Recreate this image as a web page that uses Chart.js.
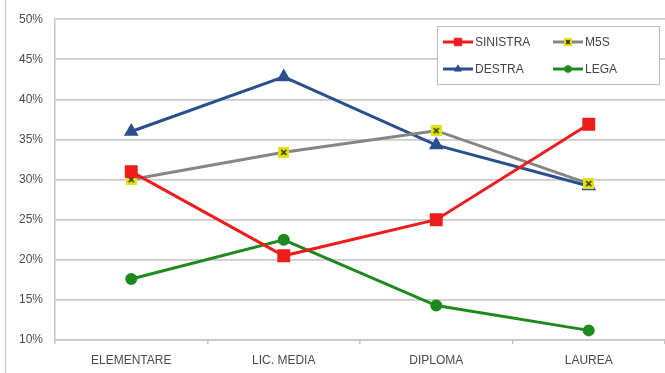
<!DOCTYPE html>
<html>
<head>
<meta charset="utf-8">
<script src="https://cdn.jsdelivr.net/npm/chart.js@4.4.1/dist/chart.umd.min.js"></script>
<style>
html, body { margin: 0; padding: 0; background: #fff; }
</style>
</head>
<body>
<canvas id="myLineChart" width="665" height="373"></canvas>
<script>
var categories = ['ELEMENTARE', 'LIC. MEDIA', 'DIPLOMA', 'LAUREA'];
var sinistra = [31.0, 20.5, 25.0, 36.9];
var m5s = [30.0, 33.4, 36.1, 29.5];
var destra = [36.0, 42.8, 34.3, 29.2];
var lega = [17.6, 22.5, 14.3, 11.2];
var yTicks = [10, 15, 20, 25, 30, 35, 40, 45, 50];

// yellow square with a dark x, used for the M5S points
function m5sMarker(size) {
    var c = document.createElement('canvas');
    c.width = size;
    c.height = size;
    var g = c.getContext('2d');
    var a = size * 0.27, b = size * 0.73;
    g.fillStyle = '#e2e214';
    g.fillRect(0, 0, size, size);
    g.strokeStyle = '#333300';
    g.lineWidth = 1.6;
    g.beginPath();
    g.moveTo(a, a); g.lineTo(b, b);
    g.moveTo(b, a); g.lineTo(a, b);
    g.stroke();
    return c;
}

var frame = {
    id: 'frame',
    beforeDraw: function (chart) {
        var ctx = chart.ctx;
        ctx.save();
        ctx.strokeStyle = '#cfcfcf';
        ctx.lineWidth = 1.5;
        ctx.beginPath();
        ctx.moveTo(5.5, 0);
        ctx.lineTo(5.5, chart.height);
        ctx.stroke();
        ctx.restore();
    }
};

var legendMarker = m5sMarker(8);

var insideLegend = {
    id: 'insideLegend',
    afterDraw: function (chart) {
        var ctx = chart.ctx;
        var bx = 437, by = 26, bw = 222, bh = 58;
        ctx.save();
        ctx.fillStyle = '#fff';
        ctx.fillRect(bx, by, bw, bh);
        ctx.strokeStyle = '#bdbdbd';
        ctx.lineWidth = 1;
        ctx.strokeRect(bx + 0.5, by + 0.5, bw, bh);
        ctx.font = '12px "Liberation Sans", Arial, sans-serif';
        ctx.textBaseline = 'middle';
        chart.data.datasets.forEach(function (ds, i) {
            var x0 = bx + 6 + (i % 2) * 110;
            var y = by + 16 + Math.floor(i / 2) * 27;
            ctx.strokeStyle = ds.borderColor;
            ctx.lineWidth = 3;
            ctx.beginPath();
            ctx.moveTo(x0, y);
            ctx.lineTo(x0 + 30, y);
            ctx.stroke();
            ctx.fillStyle = ds.pointBackgroundColor;
            ctx.strokeStyle = ds.pointBorderColor;
            ctx.lineWidth = 1;
            Chart.helpers.drawPoint(ctx, {
                pointStyle: typeof ds.pointStyle === 'string' ? ds.pointStyle : legendMarker,
                radius: ds.pointRadius * 0.75,
                rotation: 0,
                borderWidth: 1
            }, x0 + 15, y);
            ctx.fillStyle = '#444';
            ctx.fillText(ds.label, x0 + 32, y + 1);
        });
        ctx.restore();
    }
};

var ctx = document.getElementById('myLineChart').getContext('2d');
var myLineChart = new Chart(ctx, {
    type: 'line',
    data: {
        labels: categories,
        datasets: [{
            label: 'SINISTRA',
            data: sinistra,
            borderColor: '#ee1c1c',
            borderWidth: 3,
            pointStyle: 'rect',
            pointRadius: 7,
            pointBackgroundColor: '#ee1c1c',
            pointBorderColor: '#ee1c1c'
        }, {
            label: 'M5S',
            data: m5s,
            borderColor: '#858585',
            borderWidth: 3,
            pointStyle: m5sMarker(11),
            pointRadius: 6,
            pointBackgroundColor: '#e2e214',
            pointBorderColor: '#858585'
        }, {
            label: 'DESTRA',
            data: destra,
            borderColor: '#2b4f8c',
            borderWidth: 3,
            pointStyle: 'triangle',
            pointRadius: 5.5,
            pointBackgroundColor: '#2b4f8c',
            pointBorderColor: '#2b4f8c'
        }, {
            label: 'LEGA',
            data: lega,
            borderColor: '#1e8a1e',
            borderWidth: 3,
            pointStyle: 'circle',
            pointRadius: 4.5,
            pointBackgroundColor: '#1e8a1e',
            pointBorderColor: '#1e8a1e'
        }]
    },
    options: {
        responsive: false,
        animation: false,
        devicePixelRatio: 1,
        layout: {
            autoPadding: false,
            padding: { left: 0, right: 0, top: 17, bottom: 0 }
        },
        plugins: {
            legend: { display: false },
            tooltip: { enabled: false }
        },
        scales: {
            x: {
                offset: true,
                grid: {
                    offset: true,
                    drawOnChartArea: false,
                    drawTicks: true,
                    tickLength: 4,
                    color: '#c4c4c4',
                    lineWidth: 1.5
                },
                border: { color: '#c4c4c4', width: 1.5 },
                ticks: {
                    color: '#4a4a4a',
                    padding: 9,
                    font: { family: '"Liberation Sans", Arial, sans-serif', size: 12 }
                },
                afterFit: function (s) { s.height = 33; }
            },
            y: {
                min: 10,
                max: 50,
                afterBuildTicks: function (s) {
                    s.ticks = yTicks.map(function (v) { return { value: v }; });
                },
                grid: {
                    drawTicks: false,
                    color: '#cacaca',
                    lineWidth: 1.8
                },
                border: { color: '#c4c4c4', width: 1.5 },
                ticks: {
                    color: '#4a4a4a',
                    padding: 12,
                    font: { family: '"Liberation Sans", Arial, sans-serif', size: 12 },
                    callback: function (v) { return v + '%'; }
                },
                afterFit: function (s) { s.width = 55; }
            }
        }
    },
    plugins: [frame, insideLegend]
});
</script>
</body>
</html>
